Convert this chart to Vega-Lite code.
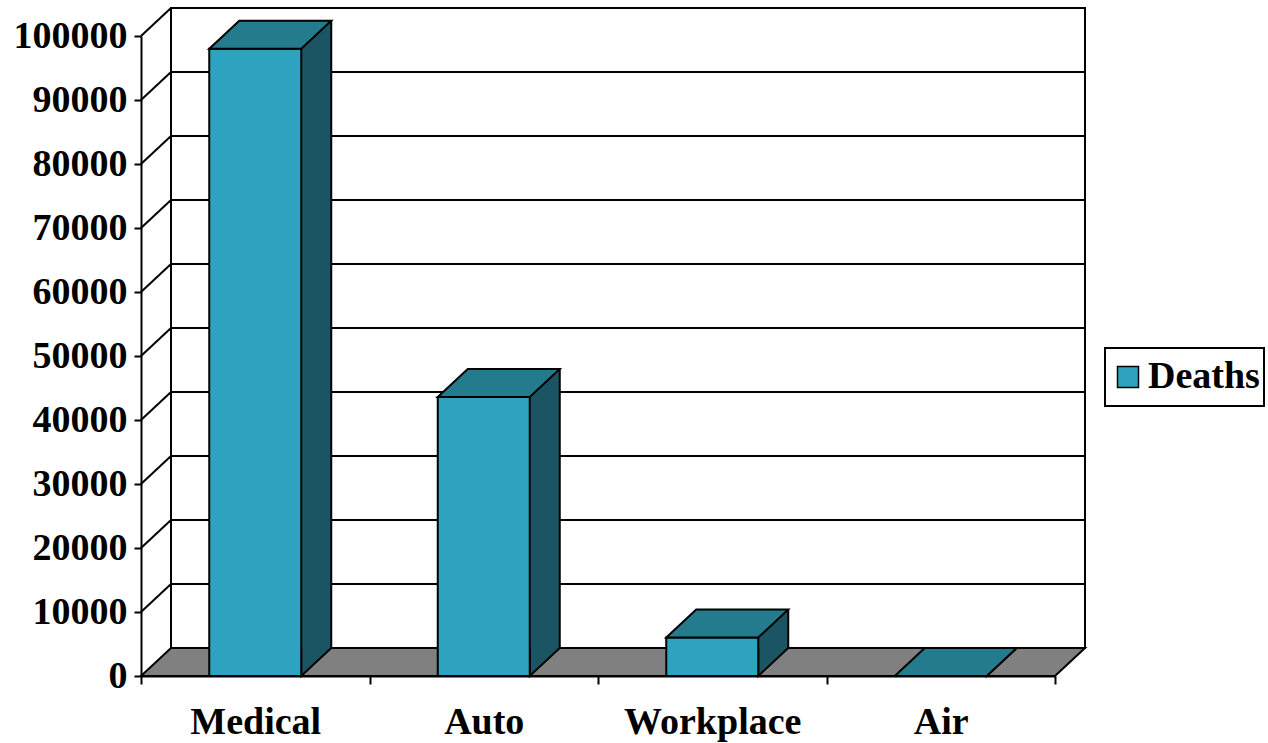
{
  "$schema": "https://vega.github.io/schema/vega-lite/v6.json",
  "width": 914,
  "height": 640,
  "autosize": {"type": "none"},
  "padding": {"left": 141, "top": 36, "right": 213, "bottom": 67},
  "background": "white",
  "config": {
    "view": {"stroke": null},
    "font": "Liberation Serif",
    "axis": {"zindex": 1},
    "legend": {"strokeWidth": 2}
  },
  "datasets": {
    "deaths": [
      {"cause": "Medical", "deaths": 98000},
      {"cause": "Auto", "deaths": 43600},
      {"cause": "Workplace", "deaths": 6000},
      {"cause": "Air", "deaths": 0}
    ],
    "grid": [
      {"v": 10000}, {"v": 20000}, {"v": 30000}, {"v": 40000}, {"v": 50000},
      {"v": 60000}, {"v": 70000}, {"v": 80000}, {"v": 90000}, {"v": 100000}
    ],
    "one": [{}]
  },
  "layer": [
    {
      "data": {"name": "one"},
      "mark": {"type": "rect", "fill": "white", "stroke": "black", "strokeWidth": 2, "xOffset": 30, "x2Offset": 30, "yOffset": -28, "y2Offset": -28},
      "encoding": {
        "x": {"value": 0},
        "x2": {"value": "width"},
        "y": {
          "datum": 100000, "type": "quantitative", "scale": {"domain": [0, 100000], "nice": false},
          "axis": {
            "title": null, "values": [0, 10000, 20000, 30000, 40000, 50000, 60000, 70000, 80000, 90000, 100000],
            "format": "d", "grid": false, "tickSize": 7, "tickWidth": 2, "tickColor": "black",
            "domainColor": "black", "domainWidth": 2, "labelPadding": 7,
            "labelFont": "Liberation Serif", "labelFontSize": 38, "labelFontWeight": "bold", "labelColor": "black"
          }
        },
        "y2": {"datum": 0}
      }
    },
    {
      "data": {"name": "grid"},
      "mark": {"type": "rule", "color": "black", "strokeWidth": 2, "xOffset": 30, "x2Offset": 30, "yOffset": -28},
      "encoding": {
        "x": {"value": 0},
        "x2": {"value": "width"},
        "y": {"field": "v", "type": "quantitative"}
      }
    },
    {
      "data": {"name": "grid"},
      "mark": {"type": "rule", "color": "black", "strokeWidth": 2, "x2Offset": 30, "y2Offset": -28},
      "encoding": {
        "x": {"value": 0},
        "x2": {"value": 0},
        "y": {"field": "v", "type": "quantitative"},
        "y2": {"field": "v"}
      }
    },
    {
      "data": {"name": "one"},
      "mark": {"type": "point", "shape": "M0,0 L914,0 L944,-28 L30,-28 Z", "size": 4, "filled": true, "fill": "#808080", "stroke": "black", "strokeWidth": 2, "opacity": 1},
      "encoding": {
        "x": {"value": 0},
        "y": {"datum": 0, "type": "quantitative"}
      }
    },
    {
      "data": {"name": "deaths"},
      "mark": {"type": "bar", "width": 30, "xOffset": 61, "yOffset": -28, "y2Offset": -28, "fill": "#1B5462", "strokeWidth": 0},
      "encoding": {
        "x": {
          "field": "cause", "type": "nominal", "sort": null,
          "scale": {"type": "band", "paddingInner": 0, "paddingOuter": 0},
          "axis": {
            "title": null, "labelAngle": 0, "tickBand": "extent", "tickSize": 8, "tickWidth": 2, "tickColor": "black",
            "domainColor": "black", "domainWidth": 2, "labelPadding": 19,
            "labelFont": "Liberation Serif", "labelFontSize": 38, "labelFontWeight": "bold", "labelColor": "black"
          }
        },
        "y": {"field": "deaths", "type": "quantitative"},
        "y2": {"datum": 0}
      }
    },
    {
      "data": {"name": "deaths"},
      "mark": {"type": "point", "shape": "M46,-28 L46,0 L76,-28", "size": 4, "filled": true, "fill": "#1B5462", "stroke": "black", "strokeWidth": 2, "opacity": 1},
      "encoding": {
        "x": {"field": "cause", "type": "nominal", "sort": null, "scale": {"type": "band"}},
        "y": {"datum": 0, "type": "quantitative"}
      }
    },
    {
      "data": {"name": "deaths"},
      "mark": {"type": "rule", "color": "black", "strokeWidth": 2, "xOffset": 76, "yOffset": -28, "y2Offset": -28},
      "encoding": {
        "x": {"field": "cause", "type": "nominal", "sort": null, "scale": {"type": "band"}},
        "y": {"field": "deaths", "type": "quantitative"},
        "y2": {"datum": 0}
      }
    },
    {
      "data": {"name": "deaths"},
      "mark": {"type": "bar", "width": 92, "stroke": "black", "strokeWidth": 2},
      "encoding": {
        "x": {"field": "cause", "type": "nominal", "sort": null, "scale": {"type": "band"}},
        "y": {"field": "deaths", "type": "quantitative"},
        "color": {
          "datum": "Deaths", "type": "nominal",
          "scale": {"range": ["#2EA3C0"]},
          "legend": {
            "title": null, "orient": "none", "legendX": 964, "legendY": 312,
            "padding": 4, "clipHeight": 50, "strokeColor": "black", "fillColor": "white",
            "symbolType": "square", "symbolSize": 441, "symbolStrokeColor": "black", "symbolStrokeWidth": 1.5, "symbolOpacity": 1,
            "labelFont": "Liberation Serif", "labelFontSize": 38, "labelFontWeight": "bold", "labelColor": "black", "labelOffset": 1
          }
        }
      }
    },
    {
      "data": {"name": "deaths"},
      "mark": {"type": "point", "shape": "M-46,0 L46,0 L76,-28 L-16,-28 Z", "size": 4, "filled": true, "fill": "#237B8D", "stroke": "black", "strokeWidth": 2, "opacity": 1},
      "encoding": {
        "x": {"field": "cause", "type": "nominal", "sort": null, "scale": {"type": "band"}},
        "y": {"field": "deaths", "type": "quantitative"}
      }
    }
  ]
}
